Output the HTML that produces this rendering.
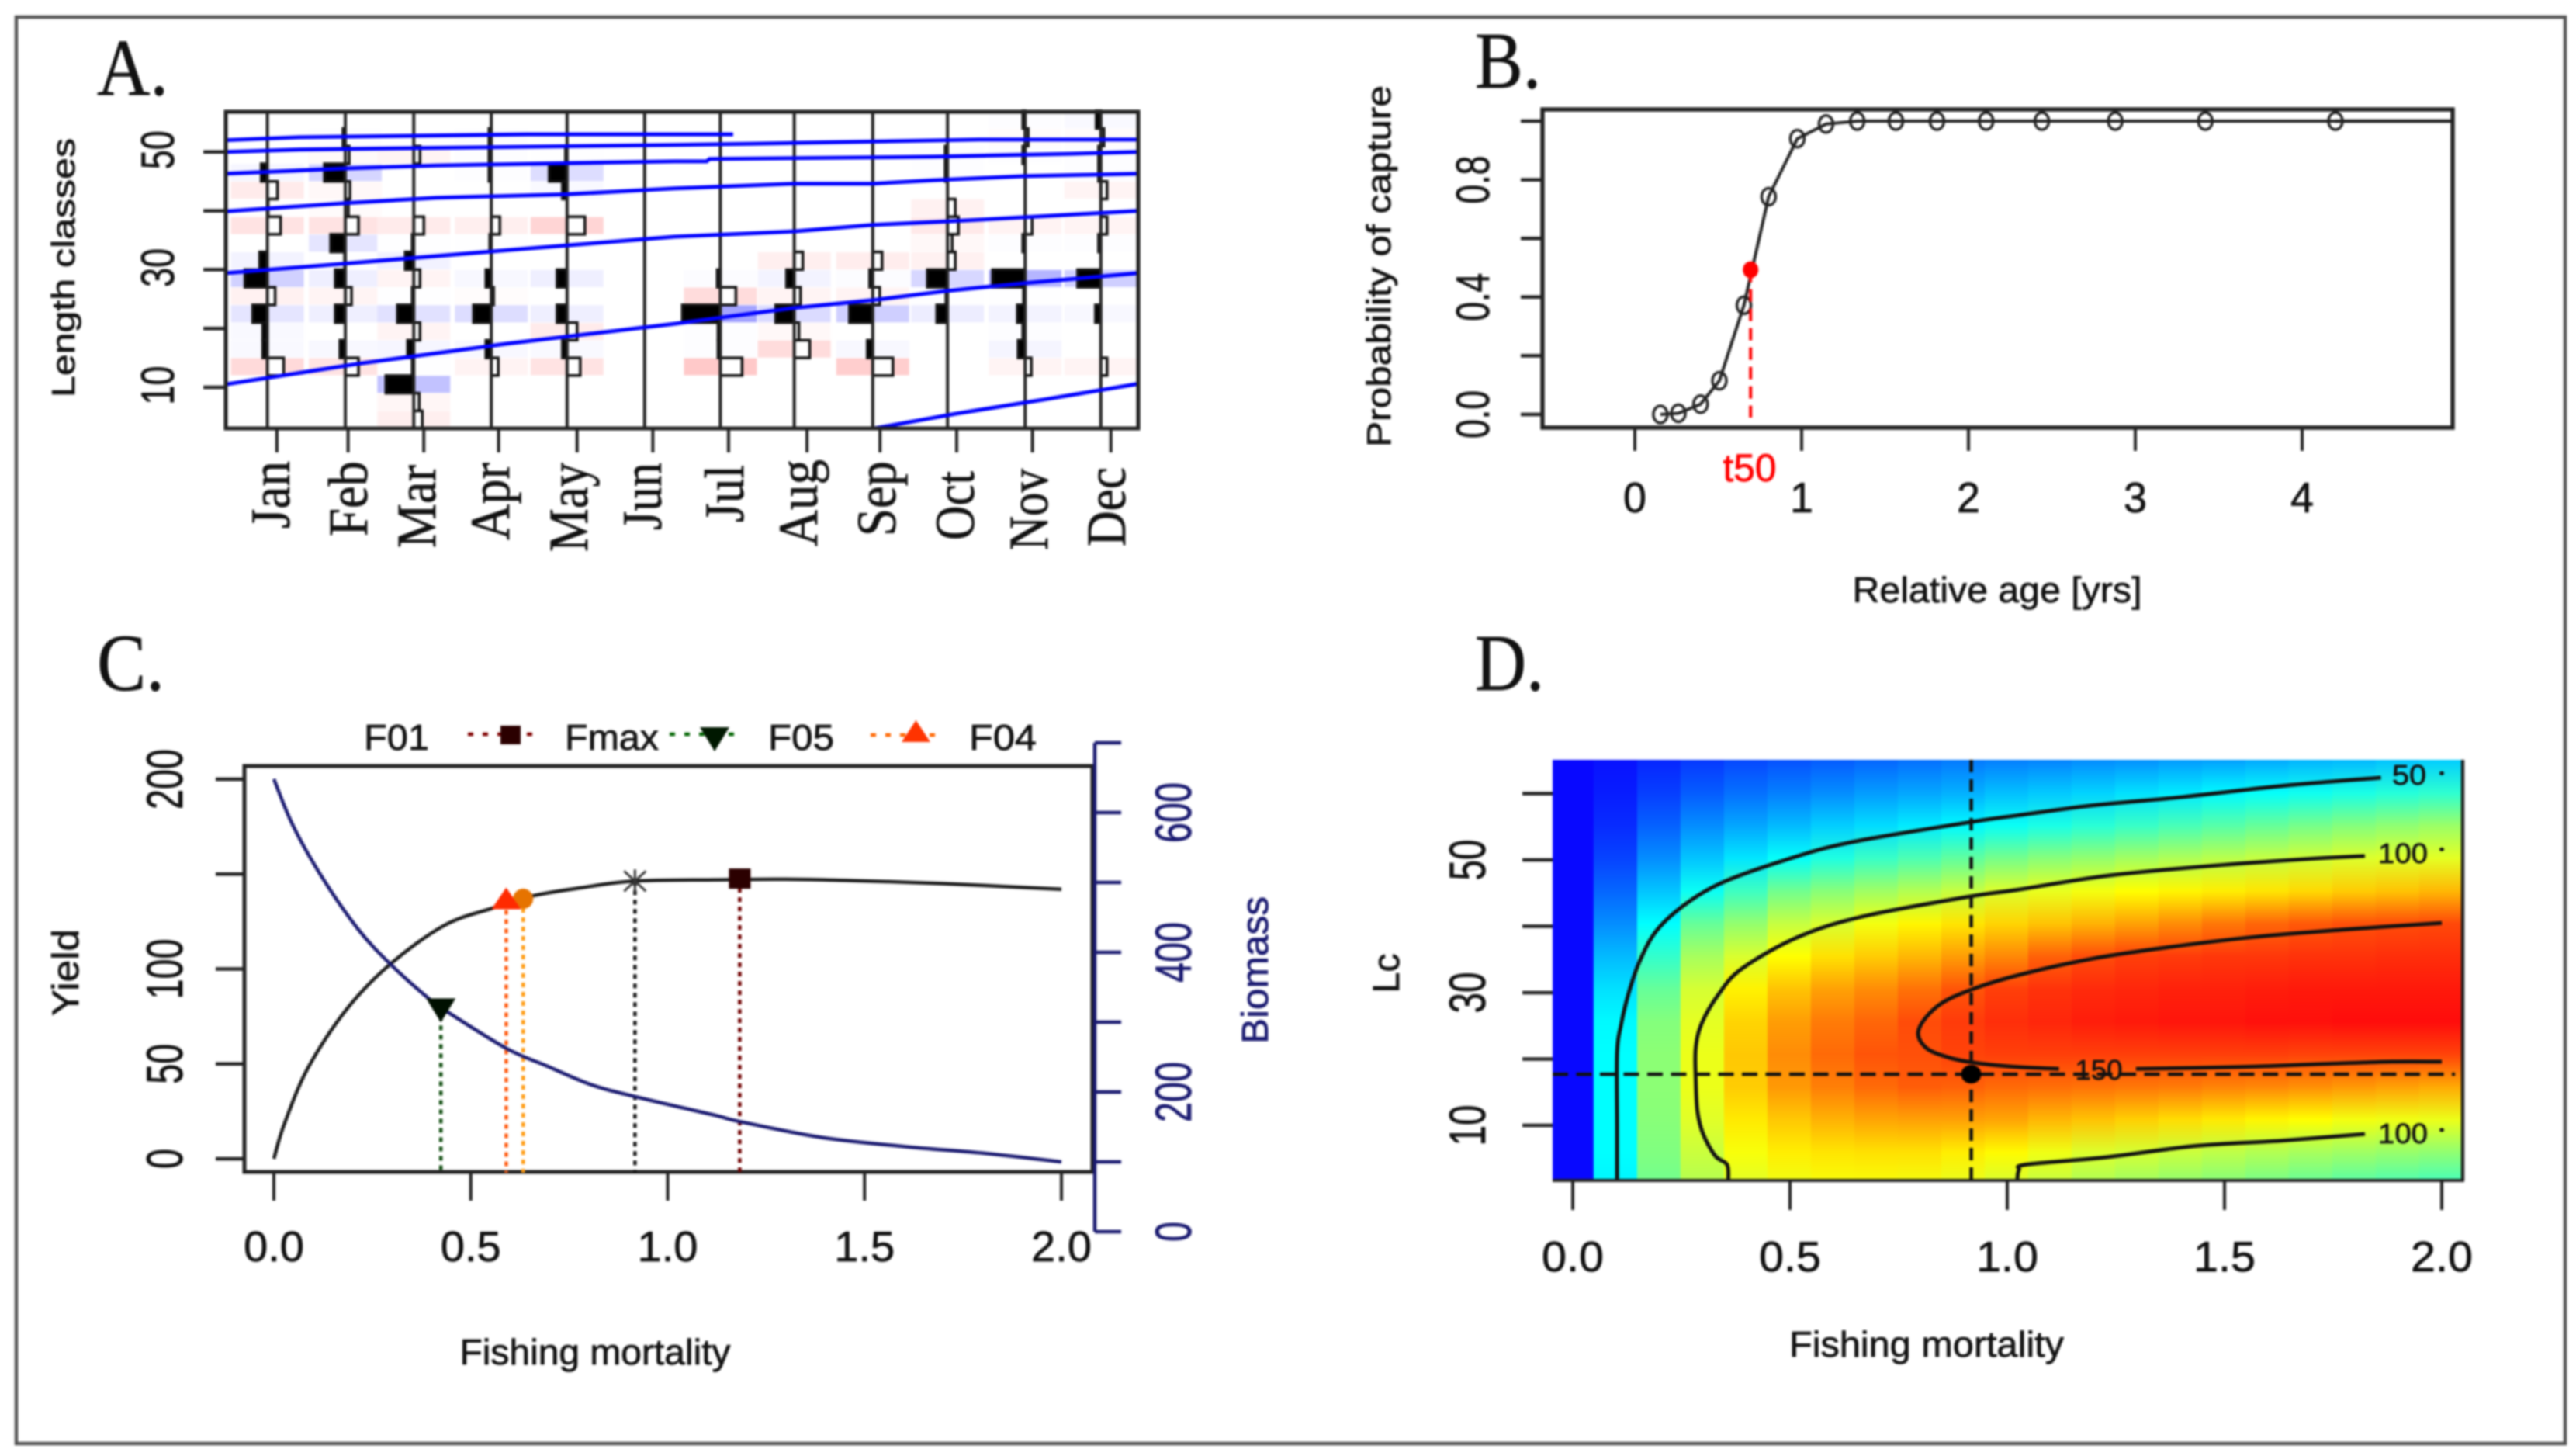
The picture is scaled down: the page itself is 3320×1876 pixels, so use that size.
<!DOCTYPE html>
<html>
<head>
<meta charset="utf-8">
<title>Fisheries stock assessment panels</title>
<style>
html,body{margin:0;padding:0;background:#fff;width:3320px;height:1876px;overflow:hidden}
svg{display:block;filter:blur(1.4px)}
text{font-family:"Liberation Sans",sans-serif;fill:#111;stroke:#111;stroke-width:.7px}
.serif{font-family:"Liberation Serif",serif}
</style>
</head>
<body>
<svg id="fig" xmlns="http://www.w3.org/2000/svg" width="3320" height="1876" viewBox="0 0 3320 1876">
<rect width="3320" height="1876" fill="#fff"/>
<rect x="21" y="22" width="3285" height="1838" fill="none" stroke="#555" stroke-width="4.5"/>

<text class="serif" x="125" y="122" font-size="104" textLength="92" lengthAdjust="spacingAndGlyphs">A.</text>
<text class="serif" x="1901" y="113" font-size="104" textLength="85" lengthAdjust="spacingAndGlyphs">B.</text>
<text class="serif" x="125" y="889" font-size="104" textLength="87" lengthAdjust="spacingAndGlyphs">C.</text>
<text class="serif" x="1901" y="889" font-size="104" textLength="89" lengthAdjust="spacingAndGlyphs">D.</text>

<g id="panelA"></g>
<g id="panelB"></g>
<g id="panelC"></g>
<g id="panelD"></g>

<!-- axis titles -->
<text transform="translate(96 345) rotate(-90)" text-anchor="middle" font-size="42" textLength="334" lengthAdjust="spacingAndGlyphs">Length classes</text>
<text transform="translate(1792 343) rotate(-90)" text-anchor="middle" font-size="44" textLength="466" lengthAdjust="spacingAndGlyphs">Probability of capture</text>
<text x="2574" y="776" text-anchor="middle" font-size="46" textLength="373" lengthAdjust="spacingAndGlyphs">Relative age [yrs]</text>
<text transform="translate(101 1253) rotate(-90)" text-anchor="middle" font-size="48" textLength="112" lengthAdjust="spacingAndGlyphs">Yield</text>
<text transform="translate(1634 1250) rotate(-90)" text-anchor="middle" font-size="48" textLength="190" lengthAdjust="spacingAndGlyphs" style="fill:#191970;stroke:#191970">Biomass</text>
<text x="767" y="1758" text-anchor="middle" font-size="46" textLength="349" lengthAdjust="spacingAndGlyphs">Fishing mortality</text>
<text transform="translate(1803 1254) rotate(-90)" text-anchor="middle" font-size="48" textLength="51" lengthAdjust="spacingAndGlyphs">Lc</text>
<text x="2483" y="1748" text-anchor="middle" font-size="46" textLength="354" lengthAdjust="spacingAndGlyphs">Fishing mortality</text>

<!-- month labels -->
<g class="serif" font-size="72">
<text class="serif" transform="translate(373 594) rotate(-90)" text-anchor="end" textLength="87" lengthAdjust="spacingAndGlyphs">Jan</text>
<text class="serif" transform="translate(473 594) rotate(-90)" text-anchor="end" textLength="97" lengthAdjust="spacingAndGlyphs">Feb</text>
<text class="serif" transform="translate(561 599) rotate(-90)" text-anchor="end" textLength="107" lengthAdjust="spacingAndGlyphs">Mar</text>
<text class="serif" transform="translate(656 596) rotate(-90)" text-anchor="end" textLength="100" lengthAdjust="spacingAndGlyphs">Apr</text>
<text class="serif" transform="translate(757 596) rotate(-90)" text-anchor="end" textLength="115" lengthAdjust="spacingAndGlyphs">May</text>
<text class="serif" transform="translate(852 596) rotate(-90)" text-anchor="end" textLength="87" lengthAdjust="spacingAndGlyphs">Jun</text>
<text class="serif" transform="translate(958 599) rotate(-90)" text-anchor="end" textLength="74" lengthAdjust="spacingAndGlyphs">Jul</text>
<text class="serif" transform="translate(1053 592) rotate(-90)" text-anchor="end" textLength="112" lengthAdjust="spacingAndGlyphs">Aug</text>
<text class="serif" transform="translate(1154 594) rotate(-90)" text-anchor="end" textLength="97" lengthAdjust="spacingAndGlyphs">Sep</text>
<text class="serif" transform="translate(1255 607) rotate(-90)" text-anchor="end" textLength="89" lengthAdjust="spacingAndGlyphs">Oct</text>
<text class="serif" transform="translate(1350 604) rotate(-90)" text-anchor="end" textLength="105" lengthAdjust="spacingAndGlyphs">Nov</text>
<text class="serif" transform="translate(1450 602) rotate(-90)" text-anchor="end" textLength="102" lengthAdjust="spacingAndGlyphs">Dec</text>
</g>

<text x="2255" y="620" text-anchor="middle" font-size="50" textLength="69" lengthAdjust="spacingAndGlyphs" style="fill:#ff0000;stroke:#ff0000">t50</text>

<!-- legend panel C -->
<g>
<text x="469" y="966" font-size="46" textLength="84" lengthAdjust="spacingAndGlyphs">F01</text>
<line x1="603" y1="946" x2="696" y2="946" stroke="#800000" stroke-width="4.5" stroke-dasharray="7 12"/>
<rect x="645" y="935" width="26" height="24" fill="#2b0000"/>
<text x="728" y="966" font-size="46" textLength="121" lengthAdjust="spacingAndGlyphs">Fmax</text>
<line x1="863" y1="946" x2="958" y2="946" stroke="#006400" stroke-width="4.5" stroke-dasharray="7 12"/>
<path d="M902 937H940L921 968Z" fill="#001800"/>
<text x="990" y="966" font-size="46" textLength="85" lengthAdjust="spacingAndGlyphs">F05</text>
<line x1="1122" y1="947" x2="1217" y2="947" stroke="#ff6600" stroke-width="4.5" stroke-dasharray="7 12"/>
<path d="M1162 956H1199L1180.5 928Z" fill="#ff3300"/>
<text x="1249" y="966" font-size="46" textLength="87" lengthAdjust="spacingAndGlyphs">F04</text>
</g>

<!-- contour labels are appended after the heatmap -->
<text id="lab50" x="3105" y="1011" text-anchor="middle" font-size="36" textLength="44" lengthAdjust="spacingAndGlyphs">50</text>
<text id="lab100a" x="3097" y="1112" text-anchor="middle" font-size="36" textLength="64" lengthAdjust="spacingAndGlyphs">100</text>
<text id="lab100b" x="3097" y="1473" text-anchor="middle" font-size="36" textLength="64" lengthAdjust="spacingAndGlyphs">100</text>
<text id="lab150" x="2705" y="1391" text-anchor="middle" font-size="36" textLength="61" lengthAdjust="spacingAndGlyphs">150</text>
</svg>

<script>
// ---------- Panel A data ----------
const lengthBins = [4.5,7.5,10.5,13.5,16.5,19.5,22.5,25.5,28.5,31.5,34.5,37.5,40.5,43.5,46.5,49.5,52.5,55.5];
const sampleDates = [.0456,.131,.206,.291,.374,.459,.542,.623,.709,.791,.876,.959];
const monthTicks = [.056,.134,.217,.299,.385,.468,.551,.637,.717,.801,.884,.970];
const scoreJan = [0,0,0,-.21,.06,.06,.19,-.10,.29,.10,0,-.17,-.01,-.13,.08,0,0,0];
const scoreFeb = [0,0,0,-.17,.07,0,.13,-.08,.13,.01,.19,-.17,-.04,-.06,.27,-.05,.03,0];
const scoreMar = [-.11,-.07,.36,.02,.08,-.08,.21,.02,-.08,.11,.02,-.13,0,0,0,-.08,0,0];
const scoreApr = [0,0,0,-.09,.07,0,.23,-.03,.07,0,.02,-.11,0,0,.03,.03,.03,0];
const scoreMay = [0,0,0,-.17,.06,-.13,.13,0,.13,0,0,-.23,0,.06,.23,.02,0,0];
const scoreJun = [0,0,0,0,0,0,0,0,0,0,0,0,0,0,0,0,0,0];
const scoreJul = [0,0,0,-.28,.03,.03,.49,-.20,.04,0,0,0,0,0,0,0,0,0];
const scoreAug = [0,0,0,0,-.20,-.06,.24,-.08,.10,-.11,0,0,0,0,0,0,0,0];
const scoreSep = [0,0,0,-.26,.07,0,.30,-.09,.04,-.12,0,0,0,0,0,0,0,0];
const scoreOct = [0,0,0,0,0,0,.14,.02,.26,-.10,-.06,-.14,-.10,0,.03,.03,0,0];
const scoreNov = [0,0,0,-.08,.09,.03,.10,.02,.42,0,.03,-.09,0,0,0,.03,-.04,.03];
const scoreDec = [0,0,0,-.08,0,0,.07,0,.30,0,.03,-.08,0,-.08,.03,.03,-.04,.06];
const monthScores = [scoreJan,scoreFeb,scoreMar,scoreApr,scoreMay,scoreJun,scoreJul,scoreAug,scoreSep,scoreOct,scoreNov,scoreDec];
const growthT0 = [.71,.80,.90,1];
const growthL0 = [3,5.5,8,10.6];
const growthT1 = [0,.145,.308,.492,.623,.709,.791,.876,1];
const growthL1 = [10.5,14,17.4,20.8,23.5,24.8,26.4,27.7,29.4];
const growthT2 = [0,.145,.308,.492,.623,.709,.791,.876,1];
const growthL2 = [29.4,31.2,33.3,35.6,36.5,37.6,38.2,38.9,40];
const growthT3 = [0,.131,.23,.374,.492,.623,.709,.775,.876,1];
const growthL3 = [39.9,41.3,42.2,42.8,43.8,44.6,44.6,45.2,45.9,46.3];
const growthT4 = [0,.131,.23,.374,.492,.527,.53,.775,.927,1];
const growthL4 = [46.3,47.2,47.7,48.1,48.4,48.4,48.8,49.2,49.7,50];
const growthT5 = [0,.08,.492,.576,.826,1];
const growthL5 = [50,50.4,51.2,51.4,52.1,52.1];
const growthT6 = [0,.08,.33,.556];
const growthL6 = [52,52.5,53,53];
const growthCurvesT = [growthT0,growthT1,growthT2,growthT3,growthT4,growthT5,growthT6];
const growthCurvesL = [growthL0,growthL1,growthL2,growthL3,growthL4,growthL5,growthL6];
const aYTicks = [10,20,30,40,50];
const aYLabels = ["10","30","50"];

// ---------- Panel B data ----------
const relAge = [.153,.261,.394,.507,.654,.802,.974,1.146,1.333,1.565,1.811,2.106,2.44,2.88,3.42,4.2];
const probCapture = [0,.004,.035,.115,.372,.742,.94,.99,1,1,1,1,1,1,1,1];
const t50 = [.694];
const p50 = [.493];
const bXTicks = [0,1,2,3,4];
const bXLabels = ["0","1","2","3","4"];
const bYTicks = [0,.2,.4,.6,.8,1];
const bYLabels = ["0.0","0.4","0.8"];

// ---------- Panel C data ----------
const fmYield = [0,.026,.086,.184,.296,.433,.554,.659,.78,.916,1.118,1.3,1.5,1.7,1.85,2];
const yieldVals = [0,18,47.6,78.6,102.6,123,132,138.6,142.8,146.3,147,147.3,146.4,145,143.5,142];
const fmBiomass = [0,.048,.124,.214,.296,.395,.448,.592,.69,.803,.916,1.118,1.18,1.39,1.6,1.81,2];
const biomassVals = [648,582,506,433,383,333,312,262,238,211,193.6,167,158,135,122,112,100];
const refF = [.424,.59,.633,.917,1.183];
const refY = [80,136,137,146.3,147.6];
const cXTicks = [0,.5,1,1.5,2];
const cXLabels = ["0.0","0.5","1.0","1.5","2.0"];
const cYTicks = [0,50,100,150,200];
const cYLabels = ["0","50","100","200"];
const cY2Ticks = [0,100,200,300,400,500,600,700];
const cY2Labels = ["0","200","400","600"];

// ---------- Panel D data ----------
const dF = [0,.1,.2,.3,.4,.5,.6,.7,.8,.9,1,1.1,1.2,1.3,1.4,1.5,1.6,1.7,1.8,1.9,2];
const dLc = [1,5,10,15,20,25,30,35,40,45,50,55,60,65];
const yieldL1  = [0,48,72,88,100,104,106,106,105,102,97,92,86,82,78,75,72,69,66,64,62];
const yieldL5  = [0,50,75,94,106,112,114,115,115,112,109,104,99,97,94,91,88,85,83,81,79];
const yieldL10 = [0,50,77,100,113,121,126,129,130,130,129,125,122,119,116,113,110,108,105,104,103];
const yieldL15 = [0,50,78,103,120,132,138,143,146,145,143,142,141,140,139,137,136,134,132,130,128];
const yieldL20 = [0,50,78,103,121,135,143,148,149,152,153,153,153,153,153,153,153,152,152,152,152];
const yieldL25 = [0,49,76,101,118,131,139,144,150,154,157,159,161,162,163,163,164,164,165,165,165];
const yieldL30 = [0,44,70,97,111,122,130,135,141,148,153,156,158,159,160,160,161,162,162,162,162];
const yieldL35 = [0,36,60,85,98,108,115,120,125,131,136,145,150,153,154,155,155,156,156,157,157];
const yieldL40 = [0,27,50,70,80,93,98,105,110,114,118,122,126,130,135,140,144,147,149,150,151];
const yieldL45 = [0,19,38,52,62,72,77,83,88,93,99,102,105,108,110,112,114,117,120,122,125];
const yieldL50 = [0,12,27,38,45,51,56,61,65,69,73,77,80,84,87,90,93,96,99,100,101];
const yieldL55 = [0,7,18,27,32,36,40,43,46,49,52,55,58,61,64,67,70,73,76,79,82];
const yieldL60 = [0,4,11,17,21,24,27,30,32,34,37,39,41,44,46,49,51,53,55,57,59];
const yieldL65 = [0,2,6,10,13,15,17,19,21,23,24,25,27,28,30,31,33,35,36,38,40];
const yieldGrid = [yieldL1,yieldL5,yieldL10,yieldL15,yieldL20,yieldL25,yieldL30,yieldL35,yieldL40,yieldL45,yieldL50,yieldL55,yieldL60,yieldL65];
const c50F = [.102,.102,.102,.112,.129,.153,.191,.2525,.341,.485,.635,.915,1.023,1.194,1.405,1.638,1.86];
const c50L = [1.9,10,20.9,25.4,30,34.6,39.2,43,46.5,49.9,52.6,55.7,56.7,58.2,59.5,61.2,62.4];
const c100aF = [.358,.355,.328,.3,.287,.283,.283,.297,.334,.389,.519,.669,.915,1.023,1.228,1.467,1.706,1.823];
const c100aL = [1.9,4.1,5.4,8.7,12.1,17,21.7,25.4,29.6,33.6,38.4,41.5,44.5,45.5,47.6,49.1,50.2,50.6];
const c100bF = [1.023,1.027,1.044,1.228,1.433,1.632,1.823];
const c100bL = [1.9,3.3,4.1,5.2,6.9,7.7,8.7];
const c150aF = [2,1.775,1.57,1.365,1.194,1.023,.915,.84,.796,.813,.867,.929,1.023,1.119];
const c150aL = [40.5,39.5,38.4,36.8,35.1,32.6,30.4,28,24.4,21.7,20.2,19.4,18.8,18.5];
const c150bF = [1.296,1.536,1.706,1.884,2];
const c150bL = [18.5,18.8,19.2,19.6,19.6];
const contourF = [c50F,c100aF,c100bF,c150aF,c150bF];
const contourL = [c50L,c100aL,c100bL,c150aL,c150bL];
const contourTailF = [2,2,2];
const contourTailL = [63.05,51.6,9.3];
const optF = [.917];
const optLc = [17.7];
const dXTicks = [0,.5,1,1.5,2];
const dXLabels = ["0.0","0.5","1.0","1.5","2.0"];
const dYTicks = [10,20,30,40,50,60];
const dYLabels = ["10","30","50"];

// ---------- helpers ----------
const NS = "http://www.w3.org/2000/svg";
function make(parent, tag, attrs){
  const el = document.createElementNS(NS, tag);
  for(const k in attrs){ el.setAttribute(k, attrs[k]); }
  parent.appendChild(el);
  return el;
}
function hText(parent, str, x, y, fs, len){
  const el = make(parent,"text",{x:x,y:y,"text-anchor":"middle","font-size":fs,textLength:len,lengthAdjust:"spacingAndGlyphs"});
  el.textContent = str;
  return el;
}
function vText(parent, str, x, y, fs, len){
  const el = make(parent,"text",{transform:"translate("+x+" "+y+") rotate(-90)","text-anchor":"middle","font-size":fs,textLength:len,lengthAdjust:"spacingAndGlyphs"});
  el.textContent = str;
  return el;
}
function polyPoints(xs, ys, fx, fy){
  return xs.map(function(v,i){ return fx(v).toFixed(1)+","+fy(ys[i]).toFixed(1); }).join(" ");
}
function smoothPath(xs, ys, fx, fy){
  const p = xs.map(function(v,i){ return [fx(v), fy(ys[i])]; });
  let d = "M"+p[0][0].toFixed(1)+" "+p[0][1].toFixed(1);
  for(let i=0;i<p.length-1;i++){
    const a=p[Math.max(i-1,0)], b=p[i], c=p[i+1], e=p[Math.min(i+2,p.length-1)];
    d += "C"+(b[0]+(c[0]-a[0])/6).toFixed(1)+" "+(b[1]+(c[1]-a[1])/6).toFixed(1)+" "+(c[0]-(e[0]-b[0])/6).toFixed(1)+" "+(c[1]-(e[1]-b[1])/6).toFixed(1)+" "+c[0].toFixed(1)+" "+c[1].toFixed(1);
  }
  return d;
}
const INK = "#222";

// ---------- Panel A ----------
(function(){
  const g = document.getElementById("panelA");
  const L=291,R=1467,T=144,B=552;
  const xA = function(t){ return L + t*(R-L); };
  const yA = function(v){ return 499 - (v-10)*7.58; };
  const barW = function(s){ return Math.abs(s)*100; };
  const clipDef = make(g,"clipPath",{id:"clipA"});
  make(clipDef,"rect",{x:L,y:T,width:R-L,height:B-T});
  const tiles = make(g,"g",{"clip-path":"url(#clipA)"});
  monthScores.forEach(function(scores,m){
    scores.forEach(function(s,b){
      if(s===0) return;
      const t = Math.min(1,Math.pow(Math.abs(s),1.3)*(s>0?.9:1.1));
      const c = Math.round(255*(1-t));
      const el = make(tiles,"rect",{x:xA(sampleDates[m])-47,y:yA(lengthBins[b])-11,width:94,height:22,fill:s>0?"rgb("+c+","+c+",255)":"rgb(255,"+c+","+c+")"});
      
      
    });
  });
  monthScores.forEach(function(scores,m){
    scores.forEach(function(s,b){
      if(s===0) return;
      const x0 = xA(sampleDates[m]);
      const w = barW(s);
      const el = make(g,"rect",{x:s>0?x0-w:x0,y:yA(lengthBins[b])-11.35,width:w,height:22.7,fill:s>0?"#000":"#fff",stroke:"#111","stroke-width":3.5});
      
      
    });
  });
  sampleDates.forEach(function(t){
    const el = make(g,"line",{x1:xA(t),x2:xA(t),y1:T,y2:B,stroke:INK,"stroke-width":4});
    
    
  });
  growthCurvesT.forEach(function(ts,i){
    const el = make(g,"polyline",{points:polyPoints(ts,growthCurvesL[i],xA,yA),fill:"none",stroke:"#0000ff","stroke-width":5});
    
    
  });
  const frame = make(g,"rect",{x:L,y:T,width:R-L,height:B-T,fill:"none",stroke:INK,"stroke-width":5});
  
  
  aYTicks.forEach(function(v){
    const el = make(g,"line",{x1:262,x2:L,y1:yA(v),y2:yA(v),stroke:INK,"stroke-width":4.5});
    
    
  });
  monthTicks.forEach(function(t){
    const el = make(g,"line",{x1:xA(t),x2:xA(t),y1:B,y2:583,stroke:INK,"stroke-width":4});
    
    
  });
  aYLabels.forEach(function(s){
    const el = vText(g,s,224,yA(+s)-2.5,60,50);
    
    
  });
})();

// ---------- Panel B ----------
(function(){
  const g = document.getElementById("panelB");
  const L=1988,R=3161,T=141,B=551;
  const xB = function(v){ return 2107 + v*215; };
  const yB = function(v){ return 534 - v*378; };
  const frame = make(g,"rect",{x:L,y:T,width:R-L,height:B-T,fill:"none",stroke:INK,"stroke-width":5.5});
  
  
  bXTicks.forEach(function(v){
    const el = make(g,"line",{x1:xB(v),x2:xB(v),y1:B,y2:581,stroke:INK,"stroke-width":4});
    
    
  });
  bYTicks.forEach(function(v){
    const el = make(g,"line",{x1:1960,x2:L,y1:yB(v),y2:yB(v),stroke:INK,"stroke-width":4.5});
    
    
  });
  bXLabels.forEach(function(s){
    const el = hText(g,s,xB(+s),660,55,30);
    
    
  });
  bYLabels.forEach(function(s){
    const el = vText(g,s,1919,yB(+s),60,62);
    
    
  });
  const curve = make(g,"polyline",{points:polyPoints(relAge,probCapture,xB,yB),fill:"none",stroke:INK,"stroke-width":4});
  
  
  const plateau = make(g,"line",{x1:xB(relAge[relAge.length-1]),x2:R,y1:yB(1),y2:yB(1),stroke:INK,"stroke-width":4.5});
  
  
  relAge.forEach(function(v,i){
    const el = make(g,"ellipse",{cx:xB(v),cy:yB(probCapture[i]),rx:9,ry:11,fill:"none",stroke:"#222","stroke-width":3.5});
    
    
  });
  const drop = make(g,"line",{x1:xB(t50[0]),x2:xB(t50[0]),y1:yB(p50[0]),y2:538,stroke:"#ff0000","stroke-width":4,"stroke-dasharray":"16 9"});
  
  
  const dot = make(g,"ellipse",{cx:xB(t50[0]),cy:yB(p50[0]),rx:10,ry:11,fill:"#ff0000"});
  
  
})();

// ---------- Panel C ----------
(function(){
  const g = document.getElementById("panelC");
  const L=315,R=1408,T=987,B=1510;
  const xC = function(v){ return 353 + v*507.5; };
  const yC = function(v){ return 1493 - v*2.445; };
  const y2C = function(v){ return 1587 - v*.9; };
  const frame = make(g,"rect",{x:L,y:T,width:R-L,height:B-T,fill:"none",stroke:INK,"stroke-width":5});
  
  
  cXTicks.forEach(function(v){
    const el = make(g,"line",{x1:xC(v),x2:xC(v),y1:B,y2:1547,stroke:INK,"stroke-width":4});
    
    
  });
  cYTicks.forEach(function(v){
    const el = make(g,"line",{x1:278,x2:L,y1:yC(v),y2:yC(v),stroke:INK,"stroke-width":4.5});
    
    
  });
  cXLabels.forEach(function(s){
    const el = hText(g,s,xC(+s),1625,55,78);
    
    
  });
  cYLabels.forEach(function(s){
    const el = vText(g,s,235,yC(+s),66,s.length*26);
    
    
  });
  const y2Axis = make(g,"line",{x1:1411,x2:1411,y1:y2C(cY2Ticks[0]),y2:y2C(cY2Ticks[cY2Ticks.length-1]),stroke:"#191970","stroke-width":4.5});
  
  
  cY2Ticks.forEach(function(v){
    const el = make(g,"line",{x1:1411,x2:1445,y1:y2C(v),y2:y2C(v),stroke:"#191970","stroke-width":4.5});
    
    
  });
  cY2Labels.forEach(function(s){
    const el = vText(g,s,1535,y2C(+s),66,s.length*26);
    el.style.fill = "#191970";
    el.style.stroke = "#191970";
    
    
  });
  const refColors = ["#0a4a0a","#ff5a10","#ff9a10","#111111","#700000"];
  refF.forEach(function(f,i){
    const el = make(g,"line",{x1:xC(f),x2:xC(f),y1:yC(refY[i]),y2:B+1,stroke:refColors[i],"stroke-width":4.5,"stroke-dasharray":"6 6"});
    
    
  });
  const yc = make(g,"path",{d:smoothPath(fmYield,yieldVals,xC,yC),fill:"none",stroke:"#1a1a1a","stroke-width":4.5});
  
  
  const bc = make(g,"path",{d:smoothPath(fmBiomass,biomassVals,xC,y2C),fill:"none",stroke:"#191970","stroke-width":4.5});
  
  
  // markers
  let x,y,el;
  x=xC(refF[0]); y=yC(refY[0]);
  el = make(g,"path",{d:"M"+(x-19)+" "+(y-11)+"H"+(x+19)+"L"+x+" "+(y+20)+"Z",fill:"#001000"});
  
  
  x=xC(refF[2]); y=yC(refY[2]);
  el = make(g,"ellipse",{cx:x,cy:y,rx:13,ry:13,fill:"#e67300"});
  
  
  x=xC(refF[1]); y=yC(refY[1]);
  el = make(g,"path",{d:"M"+(x-19)+" "+(y+11)+"H"+(x+19)+"L"+x+" "+(y-17)+"Z",fill:"#ff2a00"});
  
  
  x=xC(refF[3]); y=yC(refY[3]);
  el = make(g,"path",{d:"M"+(x-14)+" "+(y-13)+"L"+(x+14)+" "+(y+13)+"M"+(x+14)+" "+(y-13)+"L"+(x-14)+" "+(y+13)+"M"+x+" "+(y-15)+"V"+(y+15),fill:"none",stroke:"#333","stroke-width":3});
  
  
  x=xC(refF[4]); y=yC(refY[4]);
  el = make(g,"rect",{x:x-14,y:y-13,width:28,height:26,fill:"#2b0000"});
  
  
})();

// ---------- Panel D ----------
(function(){
  const g = document.getElementById("panelD");
  const L=2001,R=3174,T=979,B=1521;
  const xD = function(v){ return 2027 + v*560; };
  const yD = function(v){ return 1450 - (v-10)*8.55; };
  const stops = [[0,[8,8,255]],[50,[0,255,255]],[75,[128,255,128]],[100,[225,255,40]],[108,[255,255,0]],[165,[255,12,12]]];
  function colour(v){
    for(let i=0;i<stops.length-1;i++){
      if(v<=stops[i+1][0]){
        const a=stops[i],b=stops[i+1],t=(v-a[0])/(b[0]-a[0]);
        return "rgb("+a[1].map(function(c,k){ return Math.round(c+(b[1][k]-c)*t); }).join(",")+")";
      }
    }
    return "rgb(255,12,12)";
  }
  const defs = make(g,"defs",{});
  dF.forEach(function(f,c){
    const grad = make(defs,"linearGradient",{id:"col"+c,gradientUnits:"userSpaceOnUse",x1:0,x2:0,y1:yD(dLc[0]),y2:yD(dLc[dLc.length-1])});
    dLc.forEach(function(lc,r){
      make(grad,"stop",{offset:(r/(dLc.length-1)).toFixed(4),"stop-color":colour(yieldGrid[r][c])});
    });
    const x0 = Math.max(L,xD(f-.052));
    const x1 = Math.min(R,xD(f+.048));
    const el = make(g,"rect",{x:x0,y:T,width:x1-x0+.5,height:B-T,fill:"url(#col"+c+")"});
    
    
  });
  const axisB = make(g,"line",{x1:L,x2:R+2,y1:B,y2:B,stroke:INK,"stroke-width":4});
  
  
  const axisR = make(g,"line",{x1:R,x2:R,y1:T,y2:B,stroke:INK,"stroke-width":4.5});
  
  
  dXTicks.forEach(function(v){
    const el = make(g,"line",{x1:xD(v),x2:xD(v),y1:B,y2:1559,stroke:INK,"stroke-width":4});
    
    
  });
  dYTicks.forEach(function(v){
    const el = make(g,"line",{x1:1962,x2:L,y1:yD(v),y2:yD(v),stroke:INK,"stroke-width":4.5});
    
    
  });
  dXLabels.forEach(function(s){
    const el = hText(g,s,xD(+s),1638,55,80);
    
    
  });
  dYLabels.forEach(function(s){
    const el = vText(g,s,1914,yD(+s),66,53);
    
    
  });
  contourF.forEach(function(fs,i){
    const el = make(g,"path",{d:smoothPath(fs,contourL[i],xD,yD),fill:"none",stroke:"#111","stroke-width":5});
    
    
  });
  contourTailF.forEach(function(f,i){
    const el = make(g,"ellipse",{cx:xD(f),cy:yD(contourTailL[i]),rx:3,ry:2.5,fill:"#111"});
    
    
  });
  const hLine = make(g,"line",{x1:L,x2:3164,y1:yD(optLc[0]),y2:yD(optLc[0]),stroke:"#111","stroke-width":4.5,"stroke-dasharray":"20 10.5"});
  
  
  const vLine = make(g,"line",{x1:xD(optF[0]),x2:xD(optF[0]),y1:T,y2:B+3,stroke:"#111","stroke-width":4.5,"stroke-dasharray":"16 9"});
  
  
  const dot = make(g,"ellipse",{cx:xD(optF[0]),cy:yD(optLc[0]),rx:13,ry:12,fill:"#000"});
  
  
})();
</script>
</body>
</html>
